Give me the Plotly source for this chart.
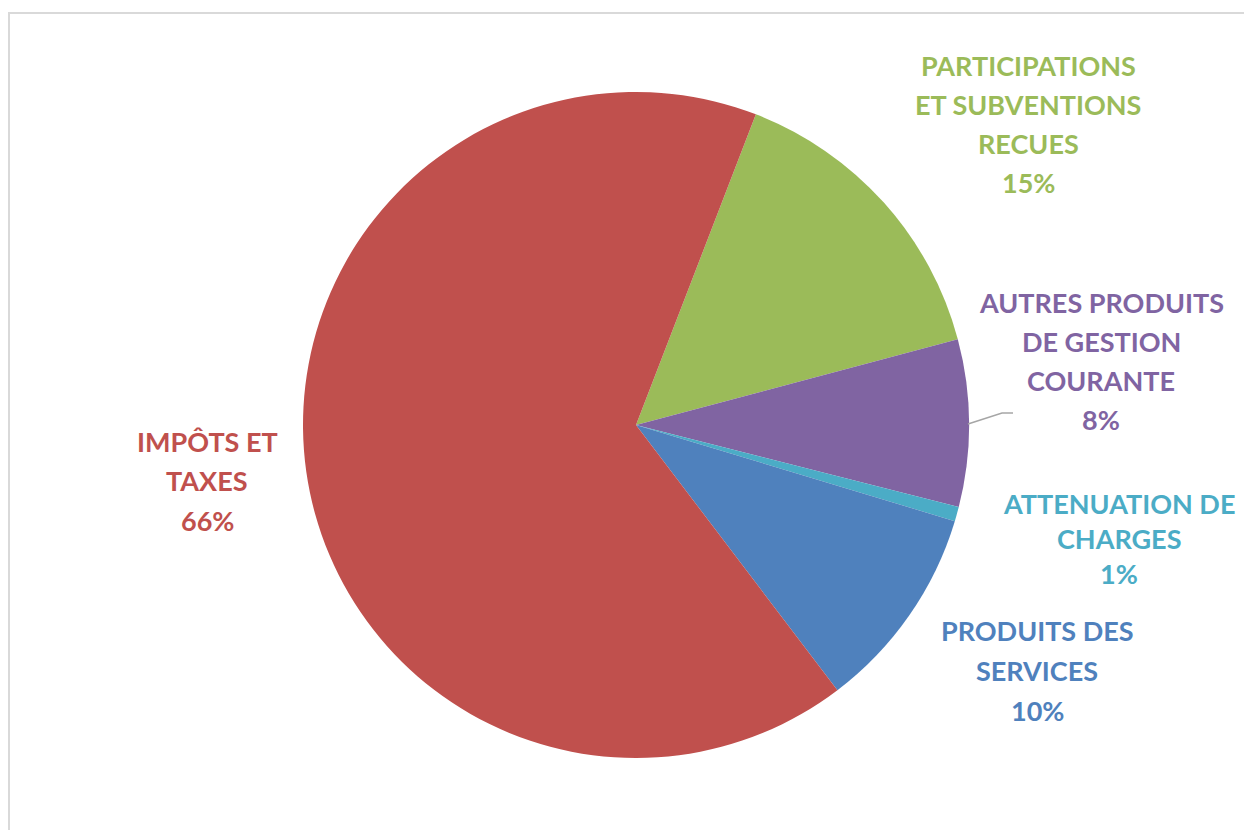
import plotly.graph_objects as go

categories = ["PARTICIPATIONS<br>ET SUBVENTIONS<br>RECUES",
              "AUTRES PRODUITS<br>DE GESTION<br>COURANTE",
              "ATTENUATION DE<br>CHARGES",
              "PRODUITS DES<br>SERVICES",
              "IMPÔTS ET<br>TAXES"]
values = [15.0, 8.1, 0.7, 10.0, 66.2]
colors = ["#9BBB59", "#8064A2", "#4BACC6", "#4F81BD", "#C0504D"]

# page has an 8px body margin: work in screen pixels and shift
OFF = 8
W, H = 1252, 830

def fx(px):
    return (px - OFF) / W

def fy(py):
    return 1 - (py - OFF) / H

# label block placement (screen pixel centre x, first-line centre y, line spacing)
label_pos = [(1028, 65, 39), (1101, 302, 39), (1119, 503, 35), (1037, 630, 40), (207, 441, 39.5)]

cx, cy, r = 636, 425, 333

fig = go.Figure(go.Pie(
    values=values,
    labels=[c.replace("<br>", " ") for c in categories],
    marker=dict(colors=colors, line=dict(width=0)),
    sort=False,
    direction="clockwise",
    rotation=21.1,
    textinfo="none",
    hoverinfo="label+percent",
    domain=dict(x=[fx(cx - r), fx(cx + r)], y=[fy(cy + r), fy(cy - r)]),
    showlegend=False,
))

total = sum(values)
annotations = []
for cat, v, col, (px, py, dy) in zip(categories, values, colors, label_pos):
    lines = cat.split("<br>") + [f"{round(v / total * 100):.0f}%"]
    for i, ln in enumerate(lines):
        annotations.append(dict(
            x=fx(px), y=fy(py + i * dy), xref="paper", yref="paper",
            text=ln, showarrow=False, xanchor="center", yanchor="middle",
            font=dict(family="Lato", size=27, color=col, weight="bold"),
        ))

shapes = [
    dict(type="rect", xref="paper", yref="paper",
         x0=fx(9), x1=1.05, y0=-0.05, y1=fy(13),
         line=dict(color="#D9D9D9", width=2)),
    dict(type="path", xref="paper", yref="paper",
         path=f"M {fx(968)},{fy(424)} L {fx(1002)},{fy(413)} L {fx(1013)},{fy(413)}",
         line=dict(color="#A6A6A6", width=1.5)),
]

fig.update_layout(
    width=W, height=H,
    margin=dict(l=0, r=0, t=0, b=0),
    paper_bgcolor="white", plot_bgcolor="white",
    annotations=annotations, shapes=shapes,
)

fig.write_html("out.html")
